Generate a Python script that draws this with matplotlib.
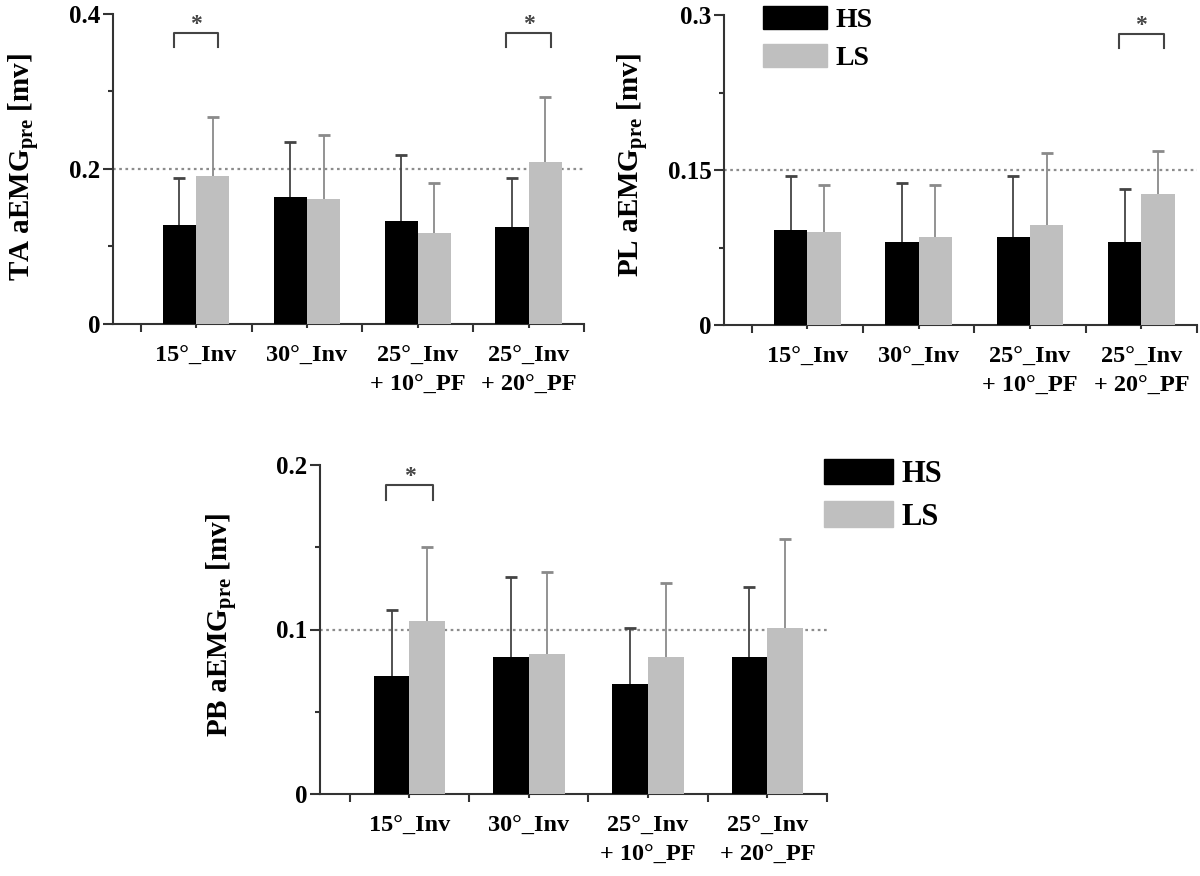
import matplotlib
matplotlib.use('Agg')
import matplotlib.pyplot as plt
from matplotlib.patches import Patch

plt.rcParams['font.family'] = ['Liberation Serif', 'DejaVu Serif']
plt.rcParams['font.weight'] = 'bold'
plt.rcParams['mathtext.fontset'] = 'custom'
plt.rcParams['mathtext.rm'] = 'Liberation Serif'
plt.rcParams['mathtext.bf'] = 'Liberation Serif:bold'

# Data (mean and SD, mV)
conditions = ['15°_Inv', '30°_Inv', '25°_Inv\n+ 10°_PF', '25°_Inv\n+ 20°_PF']
groups = ['HS', 'LS']

ta_hs = [0.128, 0.164, 0.133, 0.125]
ta_hs_sd = [0.060, 0.071, 0.085, 0.063]
ta_ls = [0.191, 0.161, 0.117, 0.209]
ta_ls_sd = [0.076, 0.083, 0.065, 0.084]

pl_hs = [0.092, 0.080, 0.085, 0.080]
pl_hs_sd = [0.052, 0.057, 0.059, 0.052]
pl_ls = [0.090, 0.085, 0.097, 0.127]
pl_ls_sd = [0.045, 0.050, 0.069, 0.041]

pb_hs = [0.072, 0.083, 0.067, 0.083]
pb_hs_sd = [0.040, 0.049, 0.034, 0.043]
pb_ls = [0.105, 0.085, 0.083, 0.101]
pb_ls_sd = [0.045, 0.050, 0.045, 0.054]

# reference lines and significant conditions (index into conditions)
ta_ref, pl_ref, pb_ref = 0.2, 0.15, 0.1
ta_sig = [0, 3]
pl_sig = [3]
pb_sig = [0]

BLACK = '#000000'
GREY = '#bfbfbf'
AXC = '#333333'
W = 0.3


def upper_err(ax, x, y, sd, col):
    # error bar pointing up only, cap on top
    _, caps, _ = ax.errorbar(x, y, yerr=[[0] * len(y), sd], fmt='none', ecolor=col,
                             elinewidth=1.3, capsize=4, capthick=2, zorder=2)
    caps[0].set_visible(False)


def draw_panel(ax, hs, hs_sd, ls, ls_sd, ymax, ref, sig):
    xs = range(len(conditions))
    x_hs = [x - W / 2 for x in xs]
    x_ls = [x + W / 2 for x in xs]
    ax.bar(x_hs, hs, W, color=BLACK, zorder=3, label=groups[0])
    ax.bar(x_ls, ls, W, color=GREY, zorder=3, label=groups[1])
    upper_err(ax, x_hs, hs, hs_sd, '#444444')
    upper_err(ax, x_ls, ls, ls_sd, '#8a8a8a')
    ax.axhline(ref, color='#8c8c8c', ls=(0, (1.2, 1.6)), lw=1.6, zorder=1)

    # significance brackets
    for i in sig:
        top = ymax * 0.94
        low = ymax * 0.895
        ax.plot([i - 0.2, i - 0.2, i + 0.2, i + 0.2], [low, top, top, low],
                color='#444444', lw=1.5, clip_on=False)
        ax.text(i, ymax * 0.965, '*', ha='center', va='center', fontsize=17,
                color='#444444', fontweight='bold')

    ax.set_xlim(-0.75, 3.5)
    ax.set_ylim(0, ymax)
    ax.set_yticks([0, ymax / 2, ymax])
    ax.set_yticklabels(['0', f'{ymax / 2:g}', f'{ymax:g}'], fontsize=18, fontweight='bold')
    ax.set_yticks([ymax / 4, 3 * ymax / 4], minor=True)
    ax.set_xticks([-0.5, 0.5, 1.5, 2.5, 3.5])
    ax.set_xticklabels([])
    ax.set_xticks(list(xs), minor=True)
    ax.set_xticklabels(conditions, minor=True, fontsize=17.5, fontweight='bold')
    for t in ax.get_xticklabels(minor=True):
        t.set_linespacing(1.45)
    ax.tick_params(axis='y', which='major', length=7, width=1.5, color=AXC, pad=2)
    ax.tick_params(axis='y', which='minor', length=3.5, width=1.5, color=AXC)
    ax.tick_params(axis='x', which='major', length=6, width=1.5, color=AXC)
    ax.tick_params(axis='x', which='minor', length=3, width=1.5, color=AXC, pad=13)
    for s in ['top', 'right']:
        ax.spines[s].set_visible(False)
    for s in ['left', 'bottom']:
        ax.spines[s].set_color(AXC)
        ax.spines[s].set_linewidth(1.5)


fig = plt.figure(figsize=(12, 8.76), dpi=100)
FW, FH = 1200, 876


def add_axes_px(left, right, top, bottom):
    return fig.add_axes([left / FW, 1 - bottom / FH, (right - left) / FW, (bottom - top) / FH])


ax1 = add_axes_px(113, 584, 14, 324)
ax2 = add_axes_px(724, 1197, 15, 325)
ax3 = add_axes_px(320, 827, 465, 794)

draw_panel(ax1, ta_hs, ta_hs_sd, ta_ls, ta_ls_sd, 0.4, ta_ref, ta_sig)
draw_panel(ax2, pl_hs, pl_hs_sd, pl_ls, pl_ls_sd, 0.3, pl_ref, pl_sig)
draw_panel(ax3, pb_hs, pb_hs_sd, pb_ls, pb_ls_sd, 0.2, pb_ref, pb_sig)

# y labels placed by pixel centre
for name, (cx, cy) in zip(['TA', 'PL', 'PB'], [(24, 167), (633, 165), (222, 625)]):
    fig.text(cx / FW, 1 - cy / FH, name + r' aEMG$_{\mathrm{pre}}$ [mv]', rotation=90,
             ha='center', va='center', fontsize=21, fontweight='bold')

handles = [Patch(color=BLACK, label=groups[0]), Patch(color=GREY, label=groups[1])]
ax2.legend(handles=handles, loc='upper left', bbox_to_anchor=(763 / FW, 1 - 6 / FH),
           bbox_transform=fig.transFigure, frameon=False, borderpad=0, borderaxespad=0,
           handlelength=2.3, handleheight=0.9, handletextpad=0.3, labelspacing=0.4,
           prop={'family': 'Liberation Serif', 'weight': 'bold', 'size': 20})
ax3.legend(handles=handles, loc='upper left', bbox_to_anchor=(824 / FW, 1 - 459 / FH),
           bbox_transform=fig.transFigure, frameon=False, borderpad=0, borderaxespad=0,
           handlelength=2.25, handleheight=0.9, handletextpad=0.3, labelspacing=0.4,
           prop={'family': 'Liberation Serif', 'weight': 'bold', 'size': 22})

fig.savefig('out.png', dpi=100)
